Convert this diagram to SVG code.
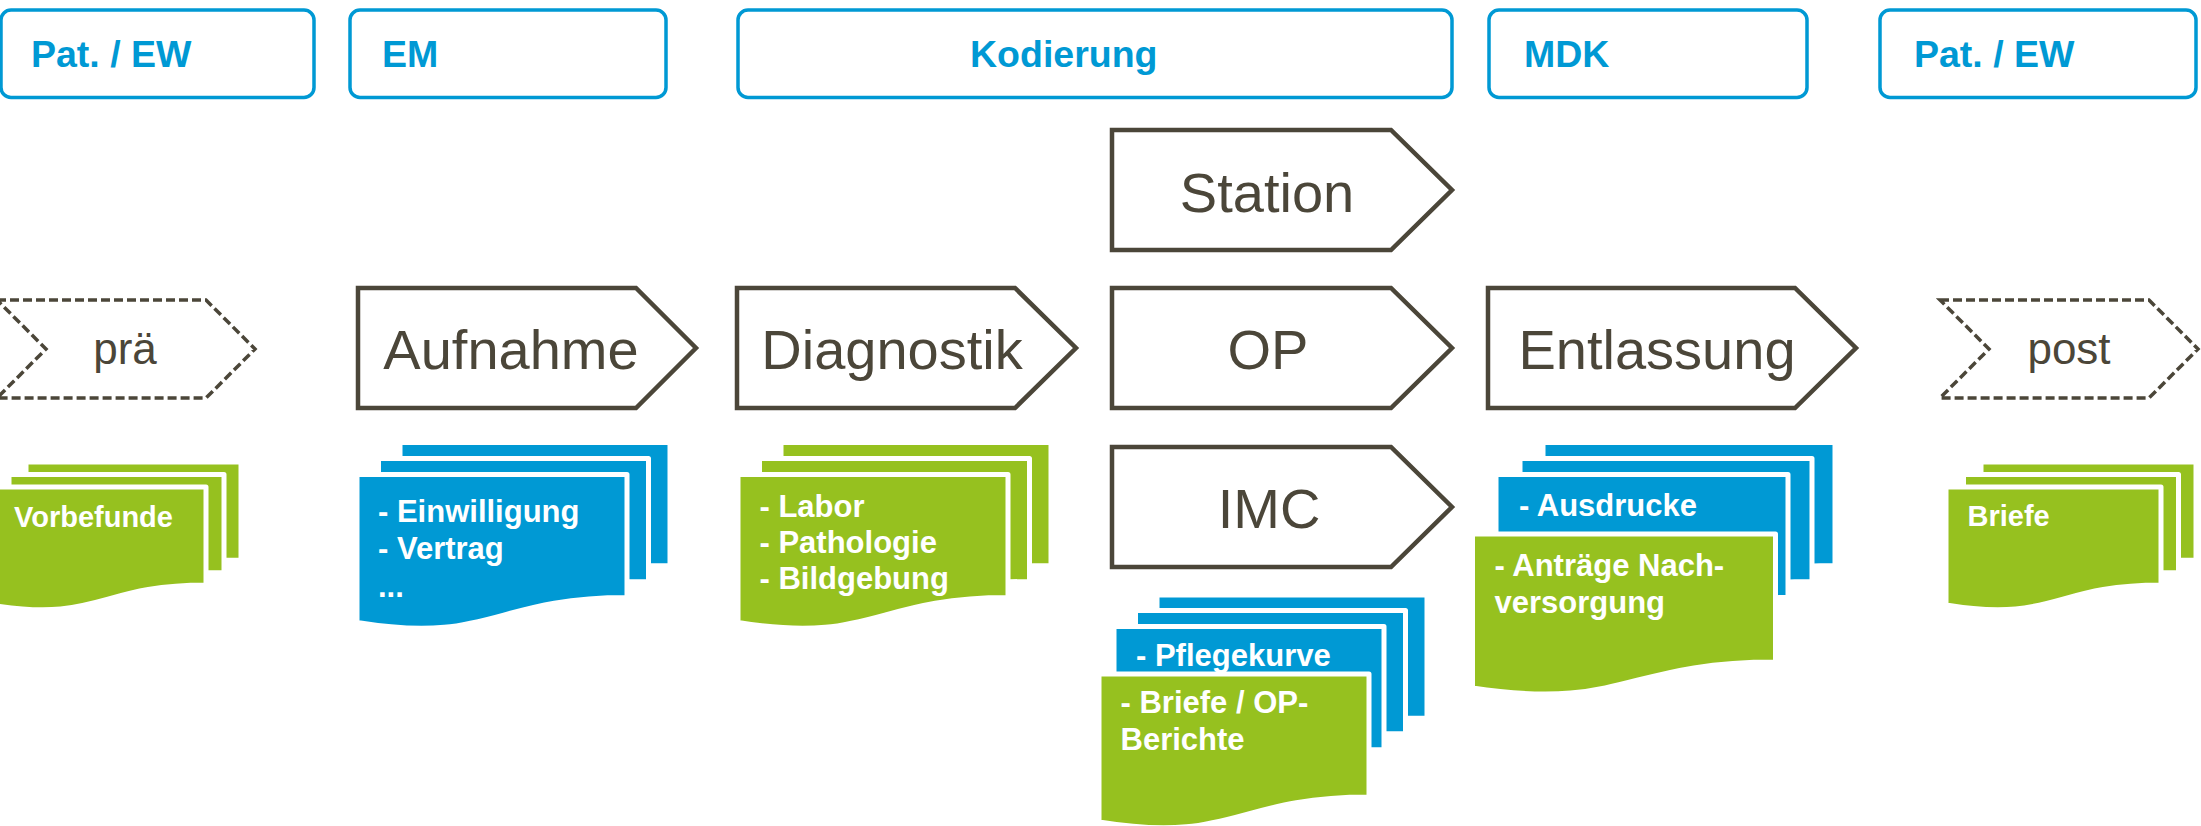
<svg xmlns="http://www.w3.org/2000/svg" xmlns:xlink="http://www.w3.org/1999/xlink" width="2201" height="826" viewBox="0 0 2201 826">
<style>
.hbox{fill:#fff;stroke:#0099d4;stroke-width:3.5}
.hdr{font-family:"Liberation Sans",Arial,sans-serif;font-weight:bold;font-size:37.5px;fill:#0099d4}
.arrow{fill:#fff;stroke:#4b4639;stroke-width:4.5;stroke-linejoin:miter}
.dashed{fill:#fff;stroke:#4b4639;stroke-width:3.5;stroke-dasharray:9 4}
.big{font-family:"Liberation Sans",Arial,sans-serif;font-size:56px;fill:#4b4639;text-anchor:middle}
.mid{font-family:"Liberation Sans",Arial,sans-serif;font-size:44px;fill:#4b4639;text-anchor:middle}
.blue{fill:#0099d4;stroke:#fff;stroke-width:5;stroke-linejoin:round}
.green{fill:#96c11f;stroke:#fff;stroke-width:5;stroke-linejoin:round}
.pt{font-family:"Liberation Sans",Arial,sans-serif;font-weight:bold;font-size:31px;fill:#fff}
.pts{font-family:"Liberation Sans",Arial,sans-serif;font-weight:bold;font-size:29px;fill:#fff}
</style>
<defs>
<path id="pg270" d="M0,0 H270 V123 C135,123 135,170 0,148 Z"/>
<path id="pg292" d="M0,0 H292 V123 C146,123 146,170 0,148 Z"/>
<path id="pg303" d="M0,0 H303 V128 C151.5,128 151.5,177 0,154 Z"/>
<path id="pg215" d="M0,0 H215 V98 C107.5,98 107.5,136 0,118 Z"/>
</defs>
<rect width="2201" height="826" fill="#fff"/>

<g id="header-pat-left"><rect class="hbox" x="1" y="10" width="313" height="87.5" rx="10"/><text class="hdr" x="31" y="66.5">Pat. / EW</text></g>
<g id="header-em"><rect class="hbox" x="350" y="10" width="316" height="87.5" rx="10"/><text class="hdr" x="382" y="66.5">EM</text></g>
<g id="header-kodierung"><rect class="hbox" x="738" y="10" width="714" height="87.5" rx="10"/><text class="hdr" x="970" y="66.5">Kodierung</text></g>
<g id="header-mdk"><rect class="hbox" x="1489" y="10" width="318" height="87.5" rx="10"/><text class="hdr" x="1524" y="66.5">MDK</text></g>
<g id="header-pat-right"><rect class="hbox" x="1880" y="10" width="316" height="87.5" rx="10"/><text class="hdr" x="1914" y="66.5">Pat. / EW</text></g>

<g id="step-prae"><path class="dashed" d="M-3,300 L206,300 L255,349 L206,398 L-3,398 L46,349 Z"/><text class="mid" x="125" y="363.5">prä</text></g>
<g id="step-aufnahme"><path class="arrow" d="M358,288 L636,288 L696,348 L636,408 L358,408 Z"/><text class="big" x="511" y="369">Aufnahme</text></g>
<g id="step-diagnostik"><path class="arrow" d="M737,288 L1015,288 L1076,348 L1015,408 L737,408 Z"/><text class="big" x="892" y="369">Diagnostik</text></g>
<g id="step-station"><path class="arrow" d="M1112,130 L1391,130 L1452,190 L1391,250 L1112,250 Z"/><text class="big" x="1267" y="211.5">Station</text></g>
<g id="step-op"><path class="arrow" d="M1112,288 L1391,288 L1452,348 L1391,408 L1112,408 Z"/><text class="big" x="1268" y="369">OP</text></g>
<g id="step-imc"><path class="arrow" d="M1112,447 L1391,447 L1452,507 L1391,567 L1112,567 Z"/><text class="big" x="1269" y="528">IMC</text></g>
<g id="step-entlassung"><path class="arrow" d="M1488,288 L1795,288 L1856,348 L1795,408 L1488,408 Z"/><text class="big" x="1657" y="369">Entlassung</text></g>
<g id="step-post"><path class="dashed" d="M1940,300 L2149,300 L2198,349 L2149,398 L1940,398 L1989,349 Z"/><text class="mid" x="2069" y="363.5">post</text></g>

<g id="docs-vorbefunde">
<use xlink:href="#pg215" class="green" x="26" y="462"/>
<use xlink:href="#pg215" class="green" x="9" y="474.5"/>
<use xlink:href="#pg215" class="green" x="-9" y="487"/>
<text class="pts" x="14" y="526.5">Vorbefunde</text>
</g>
<g id="docs-em">
<use xlink:href="#pg270" class="blue" x="400" y="442.5"/>
<use xlink:href="#pg270" class="blue" x="378.5" y="458.5"/>
<use xlink:href="#pg270" class="blue" x="357" y="474.5"/>
<text class="pt" x="378"><tspan x="378" y="521.5">- Einwilligung</tspan><tspan x="378" y="559.3">- Vertrag</tspan><tspan x="378" y="597">...</tspan></text>
</g>
<g id="docs-diagnostik">
<use xlink:href="#pg270" class="green" x="781" y="442.5"/>
<use xlink:href="#pg270" class="green" x="759.5" y="458.5"/>
<use xlink:href="#pg270" class="green" x="738" y="474.5"/>
<text class="pt"><tspan x="759.5" y="517.3">- Labor</tspan><tspan x="759.5" y="553.3">- Pathologie</tspan><tspan x="759.5" y="589.3">- Bildgebung</tspan></text>
</g>
<g id="docs-imc">
<use xlink:href="#pg270" class="blue" x="1157" y="595"/>
<use xlink:href="#pg270" class="blue" x="1135.5" y="610.5"/>
<use xlink:href="#pg270" class="blue" x="1114" y="626.5"/>
<text class="pt" x="1136" y="666">- Pflegekurve</text>
<use xlink:href="#pg270" class="green" x="1099" y="674"/>
<text class="pt"><tspan x="1120.5" y="713.3">- Briefe / OP-</tspan><tspan x="1120.5" y="750">Berichte</tspan></text>
</g>
<g id="docs-entlassung">
<use xlink:href="#pg292" class="blue" x="1543" y="442.5"/>
<use xlink:href="#pg292" class="blue" x="1520" y="458.5"/>
<use xlink:href="#pg292" class="blue" x="1496" y="474.5"/>
<text class="pt" x="1519" y="516">- Ausdrucke</text>
<use xlink:href="#pg303" class="green" x="1472.5" y="534"/>
<text class="pt"><tspan x="1494.5" y="575.7">- Anträge Nach-</tspan><tspan x="1494.5" y="612.7">versorgung</tspan></text>
</g>
<g id="docs-briefe">
<use xlink:href="#pg215" class="green" x="1981" y="462"/>
<use xlink:href="#pg215" class="green" x="1963.5" y="474.5"/>
<use xlink:href="#pg215" class="green" x="1946" y="487"/>
<text class="pts" x="1967.5" y="526">Briefe</text>
</g>
<g id="connectors"/>
</svg>
